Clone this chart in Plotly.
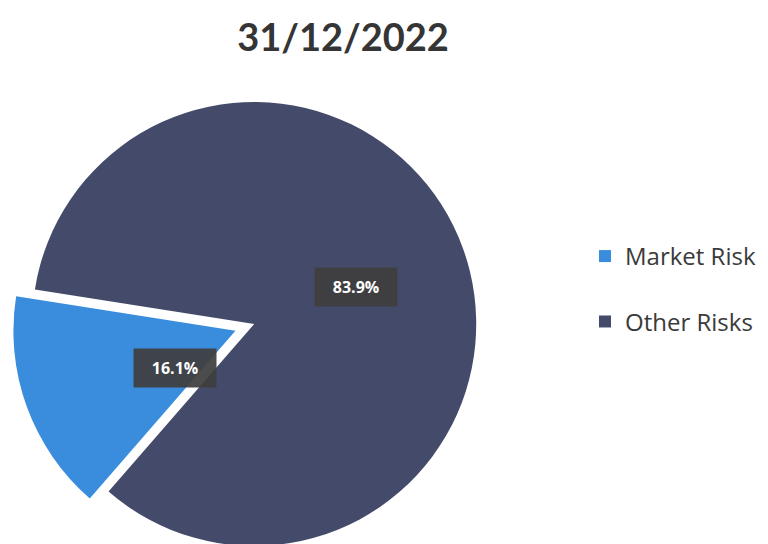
import math
import plotly.graph_objects as go

# ---- data ----
title_text = "31/12/2022"
labels = ["Market Risk", "Other Risks"]
values = [16.1, 83.9]
colors = ["#3a8ddd", "#444b6a"]

# ---- layout constants ----
W, H = 768, 566
M_T = 82
PULL = 0.09
ROTATION = 221
DOMAIN_X = [0.0, 0.662]
LABEL_R = 0.49
pulls = [PULL, 0.0]

fig = go.Figure(go.Pie(
    labels=[f"{l}<br> " for l in labels],
    values=values,
    sort=False,
    direction="clockwise",
    rotation=ROTATION,
    pull=pulls,
    marker=dict(colors=colors, line=dict(color="white", width=0)),
    textinfo="none",
    hoverinfo="label+percent",
    domain=dict(x=DOMAIN_X, y=[0, 1]),
))

# label boxes, positioned from the slice geometry
plot_w, plot_h = W, H - M_T
avail = min((DOMAIN_X[1] - DOMAIN_X[0]) * plot_w, plot_h)
r = avail / (2 + 2 * max(pulls))
cx = (DOMAIN_X[0] + DOMAIN_X[1]) / 2 * plot_w
cy = plot_h / 2
total = sum(values)
cum = 0.0
for v, p in zip(values, pulls):
    mid = math.radians(ROTATION + 360 * (cum + v / 2) / total)
    cum += v
    dist = (LABEL_R + p) * r
    xp = cx + dist * math.sin(mid)
    yp = cy - dist * math.cos(mid)
    fig.add_annotation(
        x=xp / plot_w, y=1 - yp / plot_h, xref="paper", yref="paper",
        text=f"<b>{v / total * 100:.1f}%</b>", showarrow=False,
        font=dict(family="Open Sans", size=16, color="white"),
        bgcolor="rgba(62,62,62,0.93)", width=80, height=36,
    )

fig.update_layout(
    width=W, height=H,
    margin=dict(l=0, r=0, t=M_T, b=0),
    paper_bgcolor="white", plot_bgcolor="white",
    title=dict(text=f"<b>{title_text}</b>", x=343 / W, xanchor="center",
               y=1 - 38 / H, yanchor="middle", yref="container",
               font=dict(family="Lato", size=38, color="#353535")),
    legend=dict(x=585 / W, xanchor="left", y=0.686, yanchor="top",
                valign="top", font=dict(family="Open Sans", size=24, color="#3a3a3a"),
                bgcolor="rgba(0,0,0,0)"),
    showlegend=True,
)

fig.write_html(
    "out.html",
    config={"displayModeBar": False},
    post_script="document.body.style.margin='0';document.documentElement.style.overflow='hidden';document.body.style.overflow='hidden';",
)
